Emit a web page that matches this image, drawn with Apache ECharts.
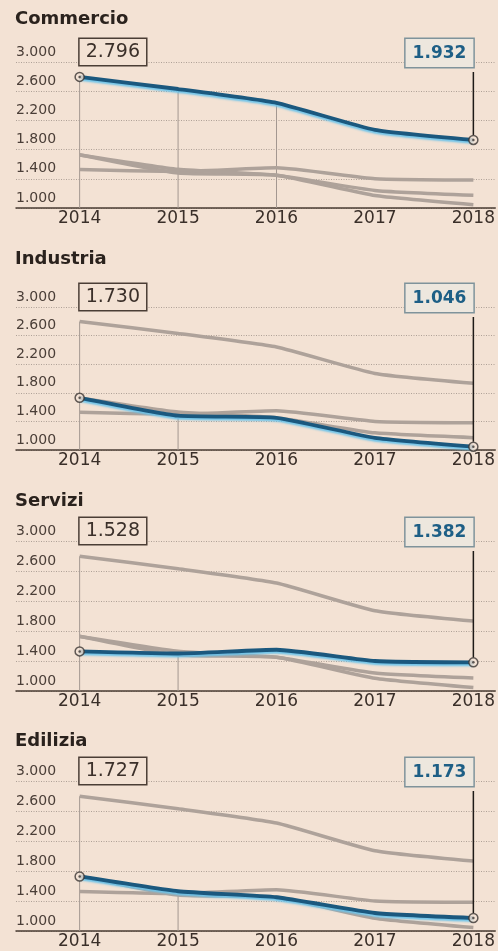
<!DOCTYPE html>
<html><head><meta charset="utf-8">
<script src="https://cdn.jsdelivr.net/npm/echarts@6/dist/echarts.min.js"></script>
<style>html,body{margin:0;padding:0;background:#f3e2d4}#c{width:498px;height:951px}</style>
</head><body><div id="c"></div>
<script>
// ---- data ----
const years = [2014, 2015, 2016, 2017, 2018];
const commercio = [2796, 2630, 2440, 2070, 1932];
const industria = [1730, 1480, 1450, 1170, 1046];
const servizi   = [1528, 1500, 1550, 1400, 1382];
const edilizia  = [1727, 1530, 1450, 1240, 1173];
const sectorNames = ['Commercio', 'Industria', 'Servizi', 'Edilizia'];
const yTicks = [1000, 1400, 1800, 2200, 2600, 3000];

// ---- layout / style ----
const sectors = [commercio, industria, servizi, edilizia];
const BG = '#f3e2d4';
const panelTops = [62, 307, 541, 781];
const panelHeights = [146, 143, 150, 150];
const titleY = [20, 260, 502, 742];
const gridLeft = 16, gridRight = 0, chartW = 498;
const x2014 = 80, x2018 = 476;
const pxPerYear = (x2018 - x2014) / 4;
const xMin = years[0] - (x2014 - gridLeft) / pxPerYear;
const xMax = years[4] + (chartW - gridRight - x2018) / pxPerYear;

function fmt(v) {
  v = Math.round(v);
  return Math.floor(v / 1000) + '.' + String(v % 1000).padStart(3, '0');
}

const chart = echarts.init(document.getElementById('c'), null, {renderer: 'canvas'});

const grids = [], xAxes = [], yAxes = [], titles = [], series = [];
sectors.forEach((vals, i) => {
  grids.push({left: gridLeft, right: gridRight, top: panelTops[i], height: panelHeights[i]});
  xAxes.push({
    type: 'value', gridIndex: i, min: xMin, max: xMax,
    axisLine: {show: true, onZero: false, lineStyle: {color: '#4a3c33', width: 1.5}},
    axisTick: {show: false}, splitLine: {show: false},
    axisLabel: {customValues: years, formatter: v => String(v), fontFamily: 'DejaVu Sans',
      fontSize: 17, color: '#3a2f29', margin: 2}
  });
  yAxes.push({
    type: 'value', gridIndex: i, min: yTicks[0], max: yTicks[yTicks.length - 1], interval: 400,
    axisLine: {show: false}, axisTick: {show: false},
    splitLine: {show: true, lineStyle: {type: [1, 1.5], color: '#aea197', width: 1}},
    axisLabel: {inside: true, margin: 0, verticalAlign: 'bottom', padding: [0, 0, 3, 0],
      fontFamily: 'DejaVu Sans', fontSize: 14, color: '#4a3e37', formatter: fmt}
  });
  titles.push({text: sectorNames[i], left: 15, top: titleY[i] - 10, padding: 0,
    textStyle: {fontFamily: 'DejaVu Sans', fontWeight: 'bold', fontSize: 18, color: '#2a221d'}});

  // drop lines
  let drops;
  if (i === 0) drops = [0, 1, 2].map(k => [years[k], vals[k]]);
  else drops = [
    [years[0], Math.max(...sectors.map(s => s[0]))],
    [years[1], Math.min(...sectors.map(s => s[1]))]
  ];
  drops.forEach(d => {
    series.push({type: 'line', xAxisIndex: i, yAxisIndex: i, silent: true, symbol: 'none', z: 1,
      data: [[d[0], yTicks[0]], [d[0], d[1]]], lineStyle: {color: '#a39790', width: 1}});
  });
  // grey comparison lines
  sectors.forEach((other, j) => {
    if (j === i) return;
    series.push({type: 'line', xAxisIndex: i, yAxisIndex: i, silent: true, symbol: 'none', z: 2,
      smooth: 0.15, data: years.map((y, k) => [y, other[k]]),
      lineStyle: {color: '#aea29a', width: 3.5}});
  });
  // highlighted sector
  series.push({type: 'line', xAxisIndex: i, yAxisIndex: i, silent: true, symbol: 'none', z: 3,
    smooth: 0.15, data: years.map((y, k) => [y, vals[k]]),
    lineStyle: {color: '#1b587e', width: 3.8, shadowColor: 'rgba(105,195,235,0.95)', shadowBlur: 2, shadowOffsetY: 2}});
  // end markers
  const ends = [[years[0], vals[0]], [years[4], vals[4]]];
  series.push({type: 'scatter', xAxisIndex: i, yAxisIndex: i, silent: true, z: 4, symbolSize: 9,
    data: ends, itemStyle: {color: BG, borderColor: '#3a3532', borderWidth: 1.5}});
  series.push({type: 'scatter', xAxisIndex: i, yAxisIndex: i, silent: true, z: 5, symbolSize: 2.5,
    data: ends, itemStyle: {color: '#3a3532'}});
});

chart.setOption({
  backgroundColor: BG, animation: false,
  title: titles, grid: grids, xAxis: xAxes, yAxis: yAxes, series: series
});

// annotations (boxes + leader lines) positioned through the chart's scales
const graphics = [];
sectors.forEach((vals, i) => {
  const p0 = chart.convertToPixel({gridIndex: i}, [years[0], vals[0]]);
  const p4 = chart.convertToPixel({gridIndex: i}, [years[4], vals[4]]);
  const boxTop = panelTops[i] - 23;
  graphics.push({type: 'text', x: p0[0], y: boxTop, z: 10,
    style: {text: fmt(vals[0]), font: '19px "DejaVu Sans"', fill: '#3b302a', align: 'left', verticalAlign: 'top',
      borderColor: '#4a3d35', borderWidth: 1.5, padding: [4, 6, 3, 6], backgroundColor: BG}});
  graphics.push({type: 'text', x: p4[0], y: boxTop, z: 10,
    style: {text: fmt(vals[4]), font: 'bold 17px "DejaVu Sans"', fill: '#1d5f86', align: 'right', verticalAlign: 'top',
      borderColor: '#7f939b', borderWidth: 1.5, padding: [6, 7, 5, 7], backgroundColor: '#ede7de'}});
  graphics.push({type: 'line', z: 9,
    shape: {x1: p4[0], y1: boxTop + 33, x2: p4[0], y2: p4[1] - 5},
    style: {stroke: '#1e1a17', lineWidth: 1.5}});
});
chart.setOption({graphic: graphics});
</script>
</body></html>
